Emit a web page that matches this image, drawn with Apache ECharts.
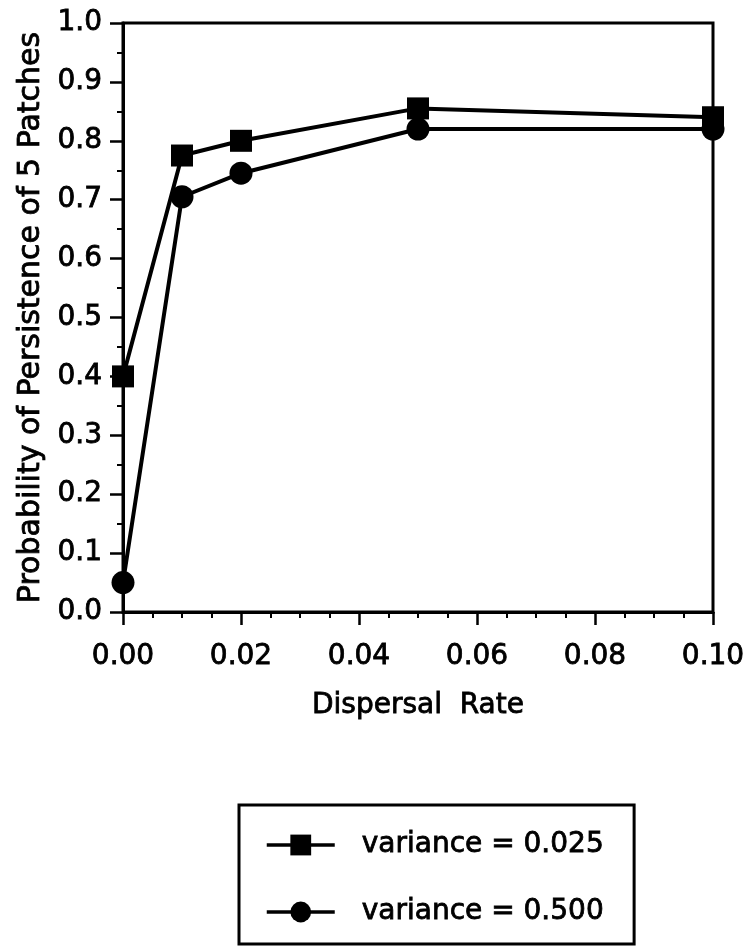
<!DOCTYPE html>
<html>
<head>
<meta charset="utf-8">
<script src="https://cdn.jsdelivr.net/npm/echarts@6/dist/echarts.min.js"></script>
<style>
html,body{margin:0;padding:0;background:#fff;}
#chart{width:749px;height:950px;}
</style>
</head>
<body>
<div id="chart"></div>
<script>
// Data
const dispersalRates = [0.00, 0.01, 0.02, 0.05, 0.10];
const variance025 = [0.40, 0.775, 0.80, 0.855, 0.84];
const variance500 = [0.05, 0.705, 0.745, 0.82, 0.82];
const seriesNames = ['variance = 0.025', 'variance = 0.500'];
const xAxisTitle = 'Dispersal  Rate';
const yAxisTitle = 'Probability of Persistence of 5 Patches';

const FONT = '"DejaVu Sans", "Liberation Sans", Arial, sans-serif';
const HEAVY = {textBorderColor: '#000', textBorderWidth: 0.8};
const pairs = (xs, ys) => xs.map((x, i) => [x, ys[i]]);

const chart = echarts.init(document.getElementById('chart'), null, {renderer: 'canvas'});
chart.setOption({
  animation: false,
  backgroundColor: '#fff',
  textStyle: {fontFamily: FONT, color: '#000'},
  grid: {left: 123, right: 36, top: 23, bottom: 338, show: true, borderColor: '#000', borderWidth: 3},
  xAxis: {
    type: 'value', min: 0, max: 0.1, interval: 0.02,
    name: xAxisTitle, nameLocation: 'middle', nameGap: 80,
    nameTextStyle: Object.assign({fontFamily: FONT, fontSize: 28, color: '#000'}, HEAVY),
    axisLine: {show: true, lineStyle: {color: '#000', width: 3}},
    axisTick: {show: true, inside: false, length: 13, lineStyle: {color: '#000', width: 2.5}},
    minorTick: {show: true, splitNumber: 4, length: 6, lineStyle: {color: '#000', width: 2}},
    splitLine: {show: false},
    axisLabel: Object.assign({fontFamily: FONT, fontSize: 28, color: '#000', margin: 31, formatter: v => v.toFixed(2)}, HEAVY)
  },
  yAxis: {
    type: 'value', min: 0, max: 1, interval: 0.1,
    name: yAxisTitle, nameLocation: 'middle', nameGap: 73, nameRotate: 90,
    nameTextStyle: Object.assign({fontFamily: FONT, fontSize: 30, color: '#000'}, HEAVY),
    axisLine: {show: true, lineStyle: {color: '#000', width: 3}},
    axisTick: {show: true, inside: false, length: 13, lineStyle: {color: '#000', width: 2.5}},
    minorTick: {show: true, splitNumber: 2, length: 6, lineStyle: {color: '#000', width: 2}},
    splitLine: {show: false},
    axisLabel: Object.assign({fontFamily: FONT, fontSize: 28, color: '#000', margin: 21, formatter: v => v.toFixed(1)}, HEAVY)
  },
  legend: {
    orient: 'vertical', left: 239, top: 805,
    data: seriesNames,
    itemWidth: 68, itemHeight: 26, itemGap: 35,
    padding: [24, 30, 16, 26],
    borderColor: '#000', borderWidth: 3,
    lineStyle: {width: 3.5, color: '#000'},
    textStyle: Object.assign({fontFamily: FONT, fontSize: 28, color: '#000', padding: [0, 0, 0, 22], lineHeight: 32}, HEAVY)
  },
  series: [
    {
      name: seriesNames[0], type: 'line', data: pairs(dispersalRates, variance025),
      symbol: 'rect', symbolSize: 22, color: '#000',
      lineStyle: {color: '#000', width: 4}, itemStyle: {color: '#000'}, clip: false
    },
    {
      name: seriesNames[1], type: 'line', data: pairs(dispersalRates, variance500),
      symbol: 'circle', symbolSize: 23, color: '#000',
      lineStyle: {color: '#000', width: 4}, itemStyle: {color: '#000'}, clip: false
    }
  ]
});
</script>
</body>
</html>
